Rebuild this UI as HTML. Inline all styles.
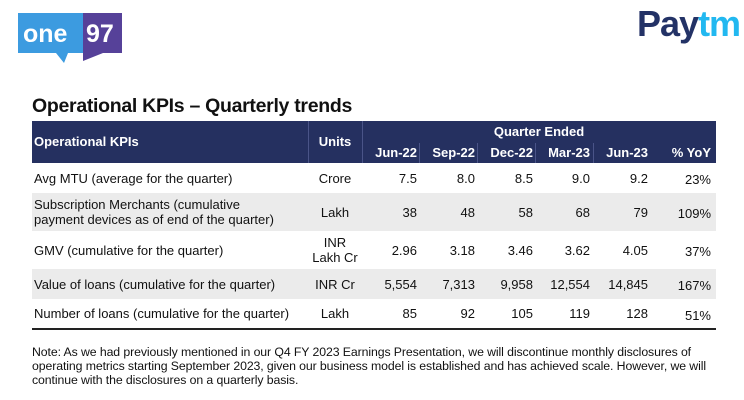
<!DOCTYPE html>
<html><head><meta charset="utf-8"><style>
body{margin:0;width:744px;height:400px;background:#fff;font-family:"Liberation Sans",Arial,sans-serif;position:relative;overflow:hidden;color:#111}
.a{position:absolute;white-space:nowrap}
.r{text-align:right}
.c{text-align:center}
</style></head><body>
<div class="a" style="left:18px;top:13px;width:104px;height:50px">
<svg width="104" height="50" viewBox="0 0 104 50"><polygon points="0,0 65,0 65,40 50,40 46,50 38,40 0,40" fill="#3c9be0"/><rect x="65" y="0" width="39" height="40" fill="#564199"/><polygon points="65,40 85,40 65,48" fill="#564199"/>
<text x="5" y="29" font-family="Liberation Sans" font-weight="bold" font-size="25" fill="#fff">one</text><text x="68" y="29" font-family="Liberation Sans" font-weight="bold" font-size="25" fill="#fff">97</text></svg></div>
<div class="a" style="left:637px;top:3px;font-weight:bold;font-size:36px;letter-spacing:-1px"><span style="color:#233266">Pay</span><span style="color:#22b8f0">tm</span></div>
<div class="a" style="left:32px;top:95px;font-size:19.5px;font-weight:bold;letter-spacing:-0.3px">Operational KPIs – Quarterly trends</div>
<div class="a" style="left:32px;top:121px;width:684px;height:42px;background:#253060;color:#fff;font-weight:bold;font-size:13px">
<div class="a" style="left:276px;top:0;width:1px;height:42px;background:#4a5488"></div>
<div class="a" style="left:330px;top:0;width:1px;height:42px;background:#4a5488"></div>
<div class="a" style="left:387px;top:22px;width:1px;height:20px;background:#4a5488"></div>
<div class="a" style="left:445px;top:22px;width:1px;height:20px;background:#4a5488"></div>
<div class="a" style="left:503px;top:22px;width:1px;height:20px;background:#4a5488"></div>
<div class="a" style="left:561px;top:22px;width:1px;height:20px;background:#4a5488"></div>
<div class="a" style="left:2px;top:13px">Operational KPIs</div>
<div class="a c" style="left:276px;width:54px;top:13px">Units</div>
<div class="a c" style="left:330px;width:354px;top:3px">Quarter Ended</div>
<div class="a r" style="left:330px;width:55px;top:24px">Jun-22</div>
<div class="a r" style="left:388px;width:55px;top:24px">Sep-22</div>
<div class="a r" style="left:446px;width:55px;top:24px">Dec-22</div>
<div class="a r" style="left:503px;width:55px;top:24px">Mar-23</div>
<div class="a r" style="left:561px;width:55px;top:24px">Jun-23</div>
<div class="a r" style="left:619px;width:60px;top:24px">% YoY</div>
</div>
<div id="rows"></div>
<div class="a" style="left:32px;top:328px;width:684px;height:2px;background:#222"></div>
<div class="a" style="left:32px;top:345px;font-size:12.3px;line-height:14.2px;white-space:normal;width:684px;letter-spacing:-0.1px">Note: As we had previously mentioned in our Q4 FY 2023 Earnings Presentation, we will discontinue monthly disclosures of operating metrics starting September 2023, given our business model is established and has achieved scale. However, we will continue with the disclosures on a quarterly basis.</div>
<script>
const labels=["Avg MTU (average for the quarter)","Subscription Merchants (cumulative<br>payment devices as of end of the quarter)","GMV (cumulative for the quarter)","Value of loans (cumulative for the quarter)","Number of loans (cumulative for the quarter)"];
const units=["Crore","Lakh","INR<br>Lakh Cr","INR Cr","Lakh"];
const values=[["7.5","8.0","8.5","9.0","9.2"],["38","48","58","68","79"],["2.96","3.18","3.46","3.62","4.05"],["5,554","7,313","9,958","12,554","14,845"],["85","92","105","119","128"]];
const yoy=["23%","109%","37%","167%","51%"];
const tops=[163,193,231,269,299],hs=[30,38,38,30,29];
const colX=[330,388,446,503,561];
const box=document.getElementById('rows');
labels.forEach((l,i)=>{
 const r=document.createElement('div');
 
 
 r.className='a';
 r.style.cssText=`left:32px;top:${tops[i]}px;width:684px;height:${hs[i]}px;background:${i%2?'#ebebeb':'#fff'};font-size:13px;line-height:15px`;
 const mid=hs[i]/2;
 const one=(t,x,w,cls)=>{const d=document.createElement('div');d.className='a '+cls;d.innerHTML=t;const n=(t.match(/<br>/g)||[]).length+1;d.style.cssText=`left:${x}px;width:${w}px;top:${mid-7.5*n}px`;r.appendChild(d);return d;};
 let d=one(l,2,272,'');
 
 
 d=one(units[i],276,54,'c');
 
 
 values[i].forEach((v,j)=>{const e=one(v,colX[j],55,'r');
 
 });
 d=one(yoy[i],619,60,'r');d.style.top=(mid-6)+'px';
 
 
 box.appendChild(r);
});
</script>
</body></html>
